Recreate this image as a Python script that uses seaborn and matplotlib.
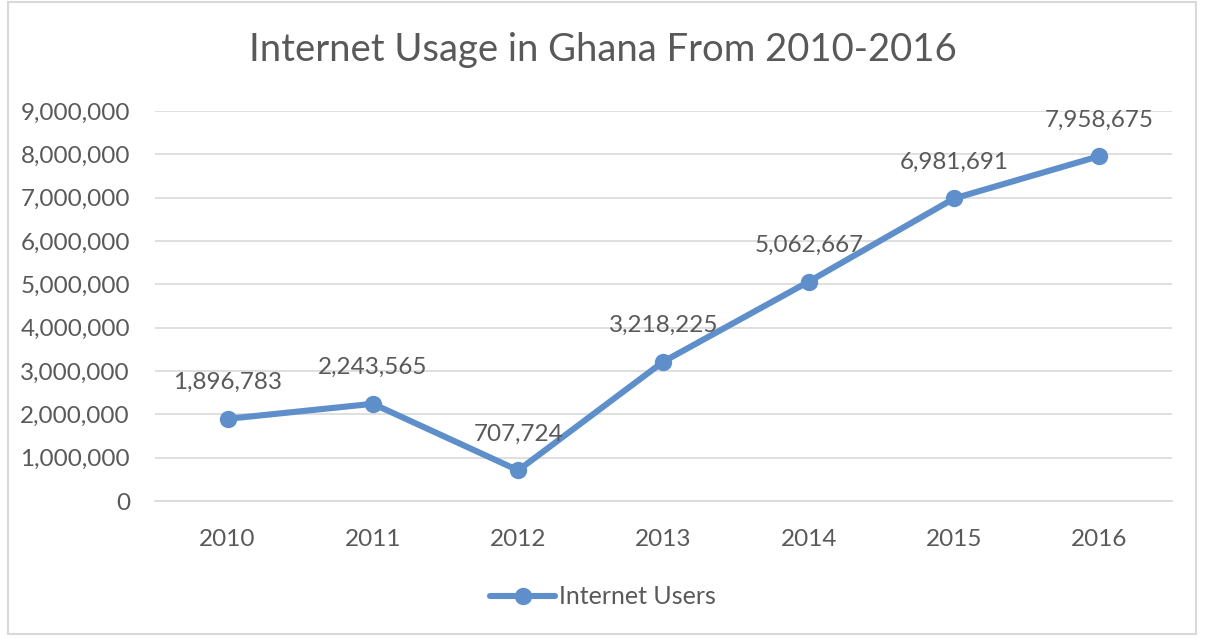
import matplotlib
matplotlib.use("Agg")
import matplotlib.pyplot as plt
import matplotlib.patches as mpatches
from matplotlib.ticker import FuncFormatter
import seaborn as sns
import pandas as pd

years = [2010, 2011, 2012, 2013, 2014, 2015, 2016]
users = [1896783, 2243565, 707724, 3218225, 5062667, 6981691, 7958675]
series_name = "Internet Users"
title = "Internet Usage in Ghana From 2010-2016"

sns.set_theme(style="white")
plt.rcParams['font.family'] = ['Lato', 'DejaVu Sans']

TXT = "#595959"
LINE = "#5E8FCB"
GRID = "#D9D9D9"

df = pd.DataFrame({"Year": years, series_name: users})

fig = plt.figure(figsize=(12.06, 6.38), dpi=100)
ax = fig.add_axes([0.1285, 0.2147, 0.8433, 0.6113])

sns.lineplot(data=df, x="Year", y=series_name, ax=ax, color=LINE, linewidth=4.4,
             marker="o", markersize=12.5, markeredgewidth=0, label=series_name)

ax.set_xlim(2009.5, 2016.5)
ax.set_ylim(0, 9000000)
ax.set_yticks(range(0, 9000001, 1000000))
ax.yaxis.set_major_formatter(FuncFormatter(lambda v, p: f"{int(v):,}"))
ax.set_xticks(years)
ax.set_xticklabels([str(y) for y in years])
ax.tick_params(axis='both', labelsize=17.5, colors=TXT, length=0)
ax.tick_params(axis='y', pad=18)
ax.tick_params(axis='x', pad=20)
ax.set_xlabel("")
ax.set_ylabel("")
ax.grid(axis='y', color=GRID, linewidth=1.2)
ax.set_axisbelow(True)
for s in ['top', 'right', 'left']:
    ax.spines[s].set_visible(False)
ax.spines['bottom'].set_color(GRID)
ax.spines['bottom'].set_linewidth(1.2)

for x, y in zip(years, users):
    ax.annotate(f"{y:,}", (x, y), xytext=(0, 26), textcoords="offset points",
                ha="center", va="center", fontsize=17.5, color=TXT)

fig.text(0.5, 1 - 50/638, title, ha="center", va="center", fontsize=27.5, color=TXT)

leg = ax.legend(loc="center", frameon=False, fontsize=18, handlelength=2.6,
                handletextpad=0.15, labelcolor=TXT)
leg.set_bbox_to_anchor((0.5, 1 - 597/638), transform=fig.transFigure)

fig.patches.append(mpatches.Rectangle((8/1206, 1 - 634/638), 1188/1206, 632/638,
                                      transform=fig.transFigure, fill=False,
                                      edgecolor=GRID, linewidth=1.5))

fig.savefig("out.png", dpi=100)
